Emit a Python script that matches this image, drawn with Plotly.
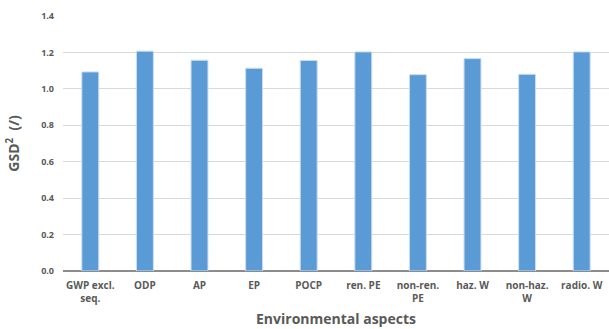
import plotly.graph_objects as go

categories = ["GWP excl.<br>seq.", "ODP", "AP", "EP", "POCP", "ren. PE",
              "non-ren.<br>PE", "haz. W", "non-haz.<br>W", "radio. W"]
gsd2 = [1.093, 1.207, 1.157, 1.113, 1.156, 1.203, 1.078, 1.166, 1.080, 1.203]
y_ticks = [0.0, 0.2, 0.4, 0.6, 0.8, 1.0, 1.2, 1.4]

fig = go.Figure(go.Bar(
    x=categories, y=gsd2,
    marker=dict(color="#5B9BD5", line=dict(color="#C9DDF1", width=1)),
))

fig.update_layout(
    width=609, height=329,
    margin=dict(l=63, r=0, t=16, b=58),
    paper_bgcolor="white", plot_bgcolor="white",
    bargap=0.69,
    showlegend=False,
    font=dict(family="Open Sans", color="#595959"),
    xaxis=dict(
        title=dict(text="<b>Environmental aspects</b>", font=dict(size=14, color="#595959"), standoff=10),
        tickfont=dict(size=10, color="#595959"),
        tickprefix="<b>", ticksuffix="</b>",
        ticklabelstandoff=7,
        showline=False, ticks="",
    ),
    yaxis=dict(
        title=dict(text="<b>GSD<sup>2</sup>  (/)</b>", font=dict(size=14, color="#595959"), standoff=18),
        range=[0, 1.4], tickvals=y_ticks,
        ticktext=[f"<b>{v:.1f}</b>" for v in y_ticks],
        tickfont=dict(size=9, color="#595959"),
        ticklabelstandoff=8,
        showgrid=True, gridcolor="#D9D9D9", gridwidth=1,
        zeroline=True, zerolinecolor="#8C8C8C", zerolinewidth=2,
        ticks="", ticklen=0,
    ),
)

fig.write_html("out.html")
